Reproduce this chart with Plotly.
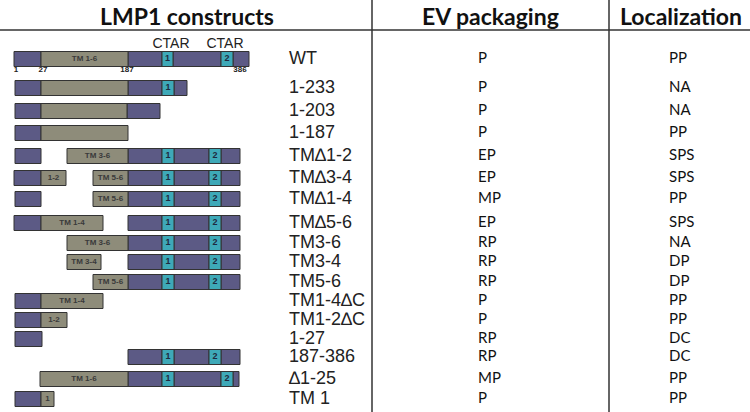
import plotly.graph_objs as go

# construct names, readouts
constructs = ['WT', '1-233', '1-203', '1-187', 'TM\u22061-2', 'TM\u22063-4', 'TM\u22061-4',
              'TM\u22065-6', 'TM3-6', 'TM3-4', 'TM5-6', 'TM1-4\u2206C', 'TM1-2\u2206C',
              '1-27', '187-386', '\u22061-25', 'TM 1']
ev_packaging = ['P', 'P', 'P', 'P', 'EP', 'EP', 'MP', 'EP', 'RP', 'RP', 'RP', 'P', 'P',
                'RP', 'RP', 'MP', 'P']
localization = ['PP', 'NA', 'NA', 'PP', 'SPS', 'SPS', 'PP', 'SPS', 'NA', 'DP', 'DP', 'PP', 'PP',
                'DC', 'DC', 'PP', 'PP']

# diagram segments per construct: (start, end, kind, label); kind c=cytoplasmic, t=TM, a=CTAR
segments = [
    [(14, 41, 'c', ''), (41, 128, 't', 'TM 1-6'), (128, 162, 'c', ''), (162, 173, 'a', '1'),
     (173, 221, 'c', ''), (221, 233, 'a', '2'), (233, 249, 'c', '')],
    [(15, 41, 'c', ''), (41, 128, 't', ''), (128, 162, 'c', ''), (162, 174, 'a', '1'), (174, 187, 'c', '')],
    [(15, 41, 'c', ''), (41, 127, 't', ''), (127, 160, 'c', '')],
    [(15, 41, 'c', ''), (41, 128, 't', '')],
    [(15, 41, 'c', ''), (67, 128, 't', 'TM 3-6'), (128, 162, 'c', ''), (162, 174, 'a', '1'),
     (174, 209, 'c', ''), (209, 221, 'a', '2'), (221, 240, 'c', '')],
    [(14, 41, 'c', ''), (41, 66, 't', '1-2'), (93, 128, 't', 'TM 5-6'), (128, 162, 'c', ''),
     (162, 174, 'a', '1'), (174, 209, 'c', ''), (209, 221, 'a', '2'), (221, 240, 'c', '')],
    [(15, 41, 'c', ''), (93, 128, 't', 'TM 5-6'), (128, 162, 'c', ''), (162, 174, 'a', '1'),
     (174, 209, 'c', ''), (209, 221, 'a', '2'), (221, 240, 'c', '')],
    [(14, 41, 'c', ''), (41, 103, 't', 'TM 1-4'), (128, 162, 'c', ''), (162, 174, 'a', '1'),
     (174, 209, 'c', ''), (209, 221, 'a', '2'), (221, 240, 'c', '')],
    [(67, 128, 't', 'TM 3-6'), (128, 162, 'c', ''), (162, 174, 'a', '1'),
     (174, 209, 'c', ''), (209, 221, 'a', '2'), (221, 240, 'c', '')],
    [(67, 101, 't', 'TM 3-4'), (128, 162, 'c', ''), (162, 174, 'a', '1'),
     (174, 209, 'c', ''), (209, 221, 'a', '2'), (221, 240, 'c', '')],
    [(93, 128, 't', 'TM 5-6'), (128, 162, 'c', ''), (162, 174, 'a', '1'),
     (174, 209, 'c', ''), (209, 221, 'a', '2'), (221, 240, 'c', '')],
    [(15, 41, 'c', ''), (41, 103, 't', 'TM 1-4')],
    [(15, 41, 'c', ''), (41, 67, 't', '1-2')],
    [(15, 42, 'c', '')],
    [(128, 162, 'c', ''), (162, 174, 'a', '1'), (174, 209, 'c', ''), (209, 221, 'a', '2'), (221, 240, 'c', '')],
    [(40, 128, 't', 'TM 1-6'), (128, 162, 'c', ''), (162, 174, 'a', '1'),
     (174, 221, 'c', ''), (221, 233, 'a', '2'), (233, 239, 'c', '')],
    [(15, 41, 'c', ''), (41, 54, 't', '1')],
]
wt_ticks = ['1', '27', '187', '386']
wt_tick_pos = [16, 43, 127, 240]

row_y = [59, 88, 111, 133, 156, 178, 199, 223, 243, 262, 282, 301, 320, 339, 357, 379, 399]
colors = {'c': '#5c5a85', 't': '#8e8c7a', 'a': '#3ea9b8'}

fig = go.Figure()
for kind in ['c', 't', 'a']:
    base, length, ys, tx, tys, labels = [], [], [], [], [], []
    for segs, y in zip(segments, row_y):
        for s, e, k, lab in segs:
            if k != kind:
                continue
            base.append(s)
            length.append(e - s)
            ys.append(y)
            if lab:
                tx.append((s + e) / 2)
                tys.append(y)
                labels.append('<b>' + lab + '</b>')
    fig.add_trace(go.Bar(y=ys, x=length, base=base, orientation='h', width=15,
                         marker=dict(color=colors[kind], line=dict(color='#333333', width=1)),
                         showlegend=False, hoverinfo='skip'))
    if labels:
        fig.add_trace(go.Scatter(x=tx, y=tys, mode='text', text=labels,
                                 textfont=dict(family='Liberation Sans', size=8 if kind == 't' else 9,
                                               color='#3a3a3a' if kind == 't' else '#1e2a40'),
                                 showlegend=False, hoverinfo='skip'))

# construct names and readouts
fig.add_trace(go.Scatter(x=[289] * len(constructs), y=row_y, mode='text', text=constructs,
                         textposition='middle right',
                         textfont=dict(family='Liberation Sans', size=18, color='#222222'),
                         showlegend=False))
fig.add_trace(go.Scatter(x=[478] * len(ev_packaging), y=row_y, mode='text', text=ev_packaging,
                         textposition='middle right',
                         textfont=dict(family='Lato', size=15, color='#111111'), showlegend=False))
fig.add_trace(go.Scatter(x=[669] * len(localization), y=row_y, mode='text', text=localization,
                         textposition='middle right',
                         textfont=dict(family='Lato', size=15, color='#111111'), showlegend=False))
# WT residue numbers and CTAR labels
fig.add_trace(go.Scatter(x=wt_tick_pos, y=[70] * 4, mode='text', text=['<b>' + t + '</b>' for t in wt_ticks],
                         textfont=dict(family='Liberation Sans Narrow, Liberation Sans', size=8, color='#222222'),
                         showlegend=False, hoverinfo='skip'))
fig.add_trace(go.Scatter(x=[171, 225], y=[44, 44], mode='text', text=['CTAR', 'CTAR'],
                         textfont=dict(family='Liberation Sans', size=14, color='#222222'),
                         showlegend=False, hoverinfo='skip'))

# headers
for txt, xc in [('LMP1 constructs', 187), ('EV packaging', 490), ('Localization', 681)]:
    fig.add_annotation(x=xc, y=16, text='<b>' + txt + '</b>', showarrow=False,
                       font=dict(family='Lato', size=23, color='#111111'))

fig.add_shape(type='line', x0=0, x1=750, y0=30, y1=30, line=dict(color='#333333', width=1.5))
fig.add_shape(type='line', x0=372, x1=372, y0=0, y1=412, line=dict(color='#333333', width=1.5))
fig.add_shape(type='line', x0=609, x1=609, y0=0, y1=412, line=dict(color='#333333', width=1.5))

fig.update_layout(width=750, height=412, margin=dict(l=0, r=0, t=0, b=0),
                  plot_bgcolor='white', paper_bgcolor='white', barmode='overlay',
                  xaxis=dict(range=[0, 750], visible=False, fixedrange=True),
                  yaxis=dict(range=[412, 0], visible=False, fixedrange=True))
fig.write_html('out.html', config={'displayModeBar': False},
               post_script="document.body.style.margin='0';")
